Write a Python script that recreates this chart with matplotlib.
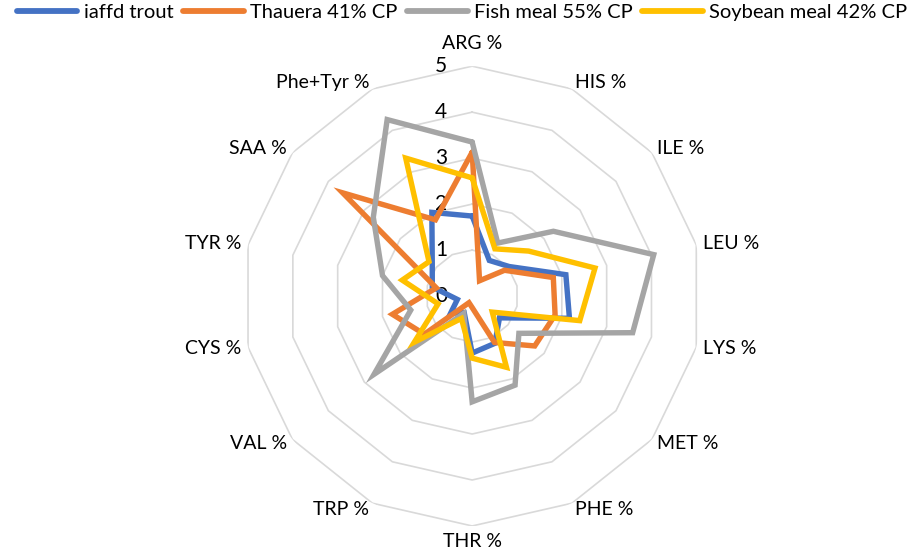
import numpy as np
import matplotlib
matplotlib.use("Agg")
import matplotlib.pyplot as plt

plt.rcParams['font.family'] = ['Lato', 'DejaVu Sans']

categories = ['ARG %', 'HIS %', 'ILE %', 'LEU %', 'LYS %', 'MET %', 'PHE %', 'THR %',
              'TRP %', 'VAL %', 'CYS %', 'TYR %', 'SAA %', 'Phe+Tyr %']

iaffd_trout = [1.74, 0.86, 1.03, 2.09, 2.17, 0.76, 1.14, 1.24, 0.40, 0.60, 0.33, 0.89, 1.11, 2.02]
thauera = [3.13, 0.37, 0.90, 1.81, 1.85, 1.74, 1.12, 0.25, 0.16, 1.33, 1.78, 0.80, 3.60, 1.84]
fish_meal = [3.35, 1.28, 2.26, 4.05, 3.58, 1.30, 2.15, 2.30, 0.42, 2.73, 1.37, 2.00, 2.75, 4.26]
soybean_meal = [2.57, 1.14, 1.57, 2.74, 2.40, 0.56, 1.72, 1.35, 0.54, 1.61, 0.76, 1.56, 1.20, 3.33]

series_names = ['iaffd trout', 'Thauera 41% CP', 'Fish meal 55% CP', 'Soybean meal 42% CP']
series_colors = ['#4472C4', '#ED7D31', '#A5A5A5', '#FFC000']
ticks = [0, 1, 2, 3, 4, 5]

n = len(categories)
angles = np.arange(n) * 2 * np.pi / n
closed = np.append(angles, angles[0])

fig = plt.figure(figsize=(9.24, 5.56), dpi=100)
ax = fig.add_axes([0.262, 0.054, 0.498, 0.827], projection='polar')
ax.set_theta_zero_location('N')
ax.set_theta_direction(-1)
ax.set_ylim(0, 5)
ax.grid(False)
ax.spines['polar'].set_visible(False)
ax.set_xticks([])
ax.set_yticks([])

# polygon gridlines like excel
for t in ticks[1:]:
    ax.plot(closed, [t] * (n + 1), color='#D9D9D9', lw=1.2, zorder=1)

for t in ticks:
    ax.annotate(str(t), xy=(0, t), xytext=(-18, 0), textcoords='offset points',
                ha='right', va='center', fontsize=15, color='black')

all_series = [iaffd_trout, thauera, fish_meal, soybean_meal]
for vals, name, col in zip(all_series, series_names, series_colors):
    v = vals + [vals[0]]
    ax.plot(closed, v, color=col, lw=3.9, label=name, zorder=3,
            solid_joinstyle='miter', solid_capstyle='round')

for a, lab in zip(angles, categories):
    s = np.sin(a)
    c = np.cos(a)
    if s > 0.1:
        ha = 'left'
    elif s < -0.1:
        ha = 'right'
    else:
        ha = 'center'
    va = 'center'
    r = 5.15
    if c > 0.95:
        va = 'bottom'
        r = 5.3
    elif c < -0.95:
        va = 'top'
    ax.text(a, r, lab, ha=ha, va=va, fontsize=14, color='black')

leg = fig.legend(loc='upper center', bbox_to_anchor=(0.5, 1.025), ncol=4, frameon=False,
                 fontsize=14.5, handlelength=3.0, handletextpad=0.3, columnspacing=0.5)
for line in leg.get_lines():
    line.set_linewidth(4.2)
    line.set_solid_capstyle('round')

fig.savefig('out.png', dpi=100)
